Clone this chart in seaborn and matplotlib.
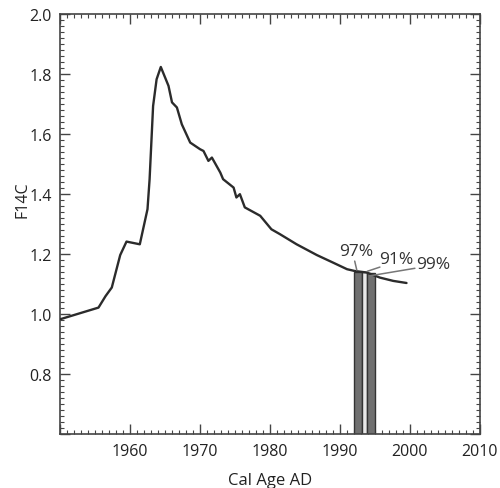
import numpy as np
import pandas as pd
import matplotlib
matplotlib.use("Agg")
import matplotlib.pyplot as plt
import seaborn as sns
from matplotlib.ticker import MultipleLocator

# curva de F14C
anos = [1950.0, 1955.5, 1956.5, 1957.4, 1958.6, 1959.5, 1961.4, 1962.5, 1962.8,
        1963.3, 1963.8, 1964.4, 1965.5, 1966.0, 1966.7, 1967.4, 1968.6, 1970.0,
        1970.5, 1971.2, 1971.7, 1972.9, 1973.3, 1974.8, 1975.2, 1975.7, 1976.4,
        1978.6, 1980.2, 1981.4, 1983.8, 1986.7, 1989.0, 1991.0, 1992.1, 1993.8,
        1995.7, 1997.6, 1999.5]
f14c = [0.983, 1.022, 1.06, 1.089, 1.197, 1.242, 1.233, 1.35, 1.45,
        1.694, 1.783, 1.824, 1.761, 1.706, 1.689, 1.633, 1.572, 1.55,
        1.544, 1.511, 1.522, 1.472, 1.45, 1.422, 1.389, 1.40, 1.356,
        1.328, 1.283, 1.267, 1.233, 1.197, 1.172, 1.15, 1.144, 1.139,
        1.122, 1.111, 1.104]

# intervalos de idade calibrada
inicio = [1992.0, 1993.2, 1993.8]
fim = [1993.2, 1993.8, 1995.0]
topo = [1.142, 1.140, 1.138]
rotulos = ["97%", "91%", "99%"]
cores = ["#707070", "#e8e8e8", "#707070"]

# posição dos rótulos e pontas das linhas de chamada
txt_x = [1992.3, 1998.0, 2003.3]
txt_y = [1.183, 1.157, 1.140]
lin_x0 = [1992.1, 1995.7, 2000.7]
lin_y0 = [1.177, 1.157, 1.153]
lin_x1 = [1992.4, 1993.9, 1994.3]
lin_y1 = [1.147, 1.143, 1.128]

df = pd.DataFrame({"ano": anos, "f14c": f14c})

sns.set_style("ticks")
plt.rcParams["font.family"] = ["Open Sans", "DejaVu Sans"]

fig = plt.figure(figsize=(5.0, 4.89), dpi=100)
ax = fig.add_axes([0.12, 0.110, 0.84, 0.859])

base = 0.6
for i in range(len(inicio)):
    ax.bar(inicio[i], topo[i] - base, width=fim[i] - inicio[i], bottom=base,
           align="edge", color=cores[i], edgecolor="#333333", linewidth=1.0, zorder=2)

sns.lineplot(data=df, x="ano", y="f14c", color="#2b2b2b", linewidth=1.7, ax=ax, zorder=3)

for i in range(3):
    ax.plot([lin_x0[i], lin_x1[i]], [lin_y0[i], lin_y1[i]], color="#777777", lw=1.1, zorder=4)
    ax.text(txt_x[i], txt_y[i], rotulos[i], ha="center", va="bottom",
            fontsize=12.5, color="#333333")

ax.set_xlim(1950, 2010)
ax.set_ylim(0.6, 2.0)
ax.xaxis.set_minor_locator(MultipleLocator(1))
ax.yaxis.set_minor_locator(MultipleLocator(0.02))
ax.set_xticks([1950, 1960, 1970, 1980, 1990, 2000, 2010])
ax.set_xticklabels(["", "1960", "1970", "1980", "1990", "2000", "2010"])
ax.set_yticks([0.6, 0.8, 1.0, 1.2, 1.4, 1.6, 1.8, 2.0])
ax.set_yticklabels(["", "0.8", "1.0", "1.2", "1.4", "1.6", "1.8", "2.0"])

ax.tick_params(which="both", direction="in", top=True, right=True, colors="#444444",
               labelcolor="#222222", labelsize=11.5)
ax.tick_params(which="major", length=7, width=1.0, pad=6)
ax.tick_params(which="minor", length=3, width=0.8)
for s in ax.spines.values():
    s.set_color("#444444")
    s.set_linewidth(1.2)

ax.set_xlabel("Cal Age AD", fontsize=12, color="#222222", labelpad=10)
ax.set_ylabel("F14C", fontsize=11.5, color="#222222")
ax.yaxis.set_label_coords(-0.07, 0.56)

fig.savefig("out.png", dpi=100)
